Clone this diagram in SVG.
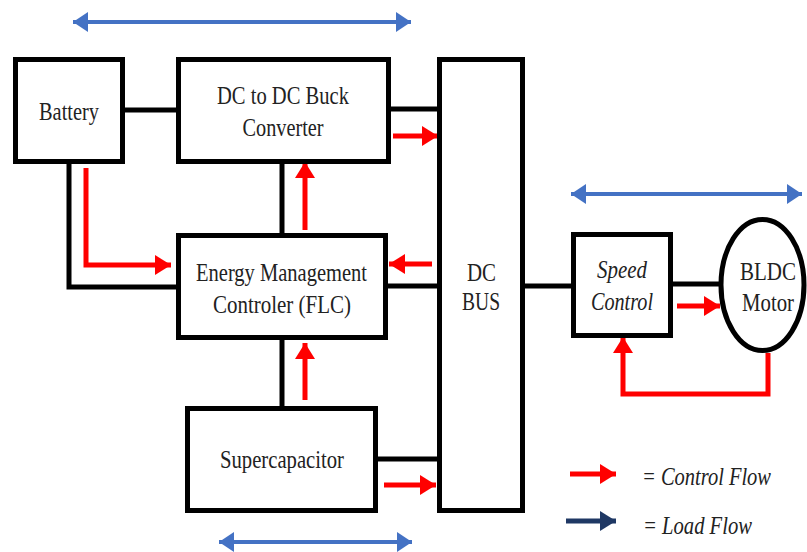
<svg xmlns="http://www.w3.org/2000/svg" width="807" height="552" viewBox="0 0 807 552">
<style>
.box{fill:#fff;stroke:#000;stroke-width:5}
.wire{fill:none;stroke:#000;stroke-width:5}
.ctl{fill:none;stroke:#ff0000;stroke-width:5;marker-end:url(#redHead)}
.load{fill:none;stroke:#1f3864;stroke-width:5;marker-end:url(#navyHead)}
.dbl{fill:none;stroke:#4472c4;stroke-width:4;marker-start:url(#blueHead);marker-end:url(#blueHead)}
text{font-family:'Liberation Serif','DejaVu Serif',serif;font-size:25px;fill:#222;text-anchor:middle}
.it{font-style:italic}
.st{text-anchor:start}
</style>
<defs>
<marker id="redHead" markerUnits="userSpaceOnUse" markerWidth="17" markerHeight="20" refX="16" refY="10" orient="auto"><path d="M0,0 L16,10 L0,20 Z" fill="#ff0000"/></marker>
<marker id="navyHead" markerUnits="userSpaceOnUse" markerWidth="17" markerHeight="20" refX="16" refY="10" orient="auto"><path d="M0,0 L16,10 L0,20 Z" fill="#1f3864"/></marker>
<marker id="blueHead" markerUnits="userSpaceOnUse" markerWidth="16" markerHeight="20" refX="15" refY="10" orient="auto-start-reverse"><path d="M0,0 L15,10 L0,20 Z" fill="#4472c4"/></marker>
</defs>
<rect width="807" height="552" fill="#fff"/>
<g id="connectors">
<path class="wire" d="M125,110 H176"/>
<path class="wire" d="M391,109 H437"/>
<path class="wire" d="M69,164 V287 H176"/>
<path class="wire" d="M282,164 V233"/>
<path class="wire" d="M388,286 H437"/>
<path class="wire" d="M282,340 V406"/>
<path class="wire" d="M378,459 H437"/>
<path class="wire" d="M525,286 H571"/>
<path class="wire" d="M673,284 H719"/>
<path class="ctl" d="M86,168 V265 H171"/>
<path class="ctl" d="M305,230 V162"/>
<path class="ctl" d="M393,136 H438"/>
<path class="ctl" d="M432,264 H389"/>
<path class="ctl" d="M305,400 V343"/>
<path class="ctl" d="M384,485 H436"/>
<path class="ctl" d="M677,306 H720"/>
<path class="ctl" d="M768,353 V394 H623 V337"/>
<path class="dbl" d="M73,22 H411"/>
<path class="dbl" d="M571,194 H802"/>
<path class="dbl" d="M219,542 H412"/>
</g>
<g id="battery"><rect class="box" x="15.5" y="59.5" width="107" height="102"/><text x="69" y="120" textLength="60" lengthAdjust="spacingAndGlyphs">Battery</text></g>
<g id="buck"><rect class="box" x="178.5" y="59.5" width="210" height="102"/><text x="283" y="104" textLength="132" lengthAdjust="spacingAndGlyphs">DC to DC Buck</text><text x="283" y="136" textLength="81" lengthAdjust="spacingAndGlyphs">Converter</text></g>
<g id="emc"><rect class="box" x="178.5" y="235.5" width="207" height="102"/><text x="281.5" y="281" textLength="171" lengthAdjust="spacingAndGlyphs">Energy Management</text><text x="282" y="313" textLength="138" lengthAdjust="spacingAndGlyphs">Controler (FLC)</text></g>
<g id="supercap"><rect class="box" x="187.5" y="408.5" width="188" height="102"/><text x="282" y="468" textLength="124" lengthAdjust="spacingAndGlyphs">Supercapacitor</text></g>
<g id="dcbus"><rect class="box" x="439.5" y="59.5" width="83" height="451"/><text x="481.5" y="281" textLength="29" lengthAdjust="spacingAndGlyphs">DC</text><text x="481" y="310" textLength="38" lengthAdjust="spacingAndGlyphs">BUS</text></g>
<g id="speed"><rect class="box" x="573.5" y="234.5" width="97" height="101"/><text class="it" x="622" y="278" textLength="50" lengthAdjust="spacingAndGlyphs">Speed</text><text class="it" x="622" y="310" textLength="62" lengthAdjust="spacingAndGlyphs">Control</text></g>
<g id="motor"><ellipse class="box" cx="762.5" cy="285" rx="41.5" ry="65.5"/><text x="768" y="280" textLength="56" lengthAdjust="spacingAndGlyphs">BLDC</text><text x="768" y="311" textLength="52" lengthAdjust="spacingAndGlyphs">Motor</text></g>
<g id="legend">
<path class="ctl" d="M570,474 H616"/>
<text class="it st" x="642" y="485" textLength="129" lengthAdjust="spacingAndGlyphs">= Control Flow</text>
<path class="load" d="M566,521 H616"/>
<text class="it st" x="643" y="534" textLength="109" lengthAdjust="spacingAndGlyphs">= Load Flow</text>
</g>
</svg>
